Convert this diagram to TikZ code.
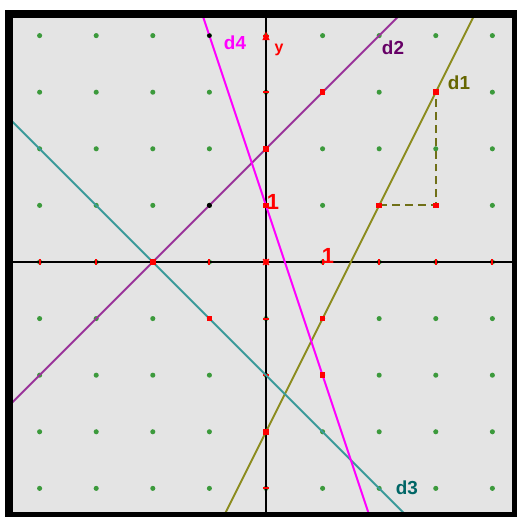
\documentclass[tikz,border=0pt]{standalone}
\usepackage{fontspec}
\setmainfont{Liberation Sans}
\usetikzlibrary{arrows.meta,calc}
\definecolor{panel}{HTML}{E4E4E4}
\definecolor{dotgreen}{HTML}{3C9A3C}
\definecolor{ptred}{HTML}{FF0000}
\definecolor{olive}{HTML}{8C8C1E}
\definecolor{olivetext}{HTML}{666600}
\definecolor{plum}{HTML}{993399}
\definecolor{plumtext}{HTML}{660066}
\definecolor{teal}{HTML}{3A9A9A}
\definecolor{tealtext}{HTML}{006666}
\definecolor{magenta}{HTML}{FF00FF}
\tikzset{
  every node/.style={font=\bfseries},
  gdot/.style={fill=dotgreen, draw=none},
  rpt/.style={fill=ptred, draw=none},
  axis/.style={line width=1pt, draw=black},
  tick/.style={line width=1pt, draw=ptred},
  droite/.style={line width=1pt},
  lbl/.style={font=\bfseries\fontsize{9.5}{10}\selectfont},
  unitlbl/.style={font=\bfseries\fontsize{11}{12}\selectfont, text=ptred},
}
\begin{document}
\begin{tikzpicture}
\useasboundingbox (-4.700,-4.523) rectangle (4.488,4.629);
% frame and panel
\fill[black] (-4.611,-4.505) rectangle (4.435,4.452);
\fill[panel] (-4.470,-4.417) rectangle (4.346,4.311);
\begin{scope}
\clip (-4.470,-4.417) rectangle (4.346,4.311);
% grid points
\foreach \x in {-4,...,4}
  \foreach \y in {-4,...,4}
    {\fill[gdot] (\x,\y) circle (0.045);}
% axes
\draw[axis] (-5,0) -- (5,0);
\draw[axis] (0,-5) -- (0,5);
\foreach \k in {-4,...,4}
  {\draw[tick] (\k,-0.05) -- (\k,0.05);
   \draw[tick] (-0.05,\k) -- (0.05,\k);}
\fill[ptred] (0,4.07) -- (-0.065,3.92) -- (0.065,3.92) -- cycle;
% lines
\draw[droite, olive] (-1,-5) -- (4,5);
\draw[droite, plum] (-7,-5) -- (3,5);
\draw[droite, teal] (-7,5) -- (3,-5);
\draw[droite, magenta] (-4/3,5) -- (2,-5);
\draw[droite, olive!80!black, dashed, dash pattern=on 4pt off 2.5pt] (2,1) -- (3,1) -- (3,3);
% marked points
\foreach \p in {(2,1),(3,1),(3,3),(1,3),(0,2),(1,-1),(1,-2),(0,-3),(-1,-1),(-2,0),(0,1)}
  {\fill[rpt] \p ++(-0.05,-0.05) rectangle ++(0.1,0.1);}
\fill[black] (-1,1) circle (0.045);
\fill[black] (-1,4) circle (0.04);
\draw[ptred, line width=0.8pt] (-0.05,-0.05) -- (0.05,0.05) (-0.05,0.05) -- (0.05,-0.05);
\end{scope}
% labels
\node[lbl, text=magenta] (ld4) at (-0.548,3.869) {d4};
\node[lbl, text=plumtext] (ld2) at (2.244,3.781) {d2};
\node[lbl, text=olivetext] (ld1) at (3.41,3.16) {d1};
\node[lbl, text=tealtext] (ld3) at (2.49,-3.99) {d3};
\node[unitlbl] (uy) at (0.124,1.06) {1};
\node[unitlbl] (ux) at (1.095,0.106) {1};
\node[font=\bfseries\fontsize{8}{9}\selectfont, text=ptred] (ly) at (0.23,3.75) {y};
\end{tikzpicture}
\end{document}
